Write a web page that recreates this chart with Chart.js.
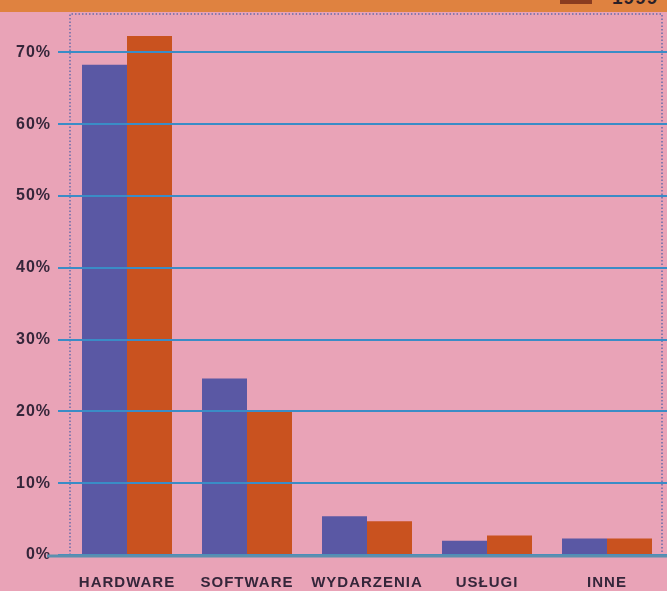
<!DOCTYPE html>
<html><head><meta charset="utf-8">
<script src="https://cdn.jsdelivr.net/npm/chart.js@4/dist/chart.umd.min.js"></script>
<style>
html,body{margin:0;padding:0;background:#e9a3b7;overflow:hidden;}
#wrap{position:relative;width:667px;height:591px;}
#strip{position:absolute;left:0;top:0;width:667px;height:12px;background:#df8240;overflow:hidden;}
#leg{position:absolute;left:612px;top:-13px;font:bold 19px "Liberation Sans",Arial,sans-serif;color:#2a2028;letter-spacing:1px;}
#sw{position:absolute;left:560px;top:-6px;width:32px;height:10px;background:#8a3c20;}
canvas{position:absolute;left:0;top:0;}
</style></head>
<body><div id="wrap"><canvas id="c" width="667" height="591"></canvas><div id="strip"><div id="sw"></div><div id="leg">1999</div></div></div>
<script>
const categories = ["HARDWARE","SOFTWARE","WYDARZENIA","USŁUGI","INNE"];
const series1998 = [68.3, 24.6, 5.4, 2.0, 2.3];
const series1999 = [72.3, 20.0, 4.7, 2.7, 2.3];
const yTicks = [0,10,20,30,40,50,60,70];

const decor = {
  id:'decor',
  beforeDraw(chart){
    chart.ctx.letterSpacing = '1px';
  },
  beforeDatasetsDraw(chart){
    const {ctx} = chart;
    const y0 = chart.scales.y.getPixelForValue(0);
    ctx.save();
    ctx.strokeStyle = 'rgba(110,110,170,0.8)';
    ctx.lineWidth = 2;
    ctx.setLineDash([1.5,2]);
    ctx.beginPath();
    ctx.moveTo(70, y0); ctx.lineTo(70, 14); ctx.lineTo(662, 14); ctx.lineTo(662, y0);
    ctx.stroke();
    ctx.restore();
  },
  afterDraw(chart){
    const {ctx} = chart;
    const y0 = chart.scales.y.getPixelForValue(0);
    ctx.save();
    ctx.strokeStyle = '#5c8fae';
    ctx.lineWidth = 3;
    ctx.beginPath(); ctx.moveTo(47, y0+1); ctx.lineTo(667, y0+1); ctx.stroke();
    ctx.restore();
  }
};

new Chart(document.getElementById('c'), {
  type:'bar',
  data:{labels:categories, datasets:[
    {label:'1998', data:series1998, backgroundColor:'#5a58a4', barPercentage:1, categoryPercentage:0.75},
    {label:'1999', data:series1999, backgroundColor:'#c9521f', barPercentage:1, categoryPercentage:0.75}
  ]},
  options:{
    responsive:false, animation:false,
    layout:{padding:{top:13,right:0,left:0,bottom:0}},
    plugins:{legend:{display:false}, tooltip:{enabled:false}},
    scales:{
      x:{grid:{display:false}, border:{display:false},
         ticks:{color:'#35263a', font:{family:'"Liberation Sans", Arial, sans-serif', size:15, weight:'bold'}, padding:11},
         afterFit(s){s.height=36;}},
      y:{min:0, max:75,
         afterBuildTicks(s){s.ticks = yTicks.map(v=>({value:v}));},
         grid:{color:'#3a8cc6', lineWidth:2, tickLength:9, drawTicks:true, z:1},
         border:{display:false},
         ticks:{color:'#35263a', padding:7, callback:v=>v+'%', font:{family:'"Liberation Sans", Arial, sans-serif', size:16, weight:'bold'}},
         afterFit(s){s.width=67;}}
    }
  },
  plugins:[decor]
});
</script></body></html>
